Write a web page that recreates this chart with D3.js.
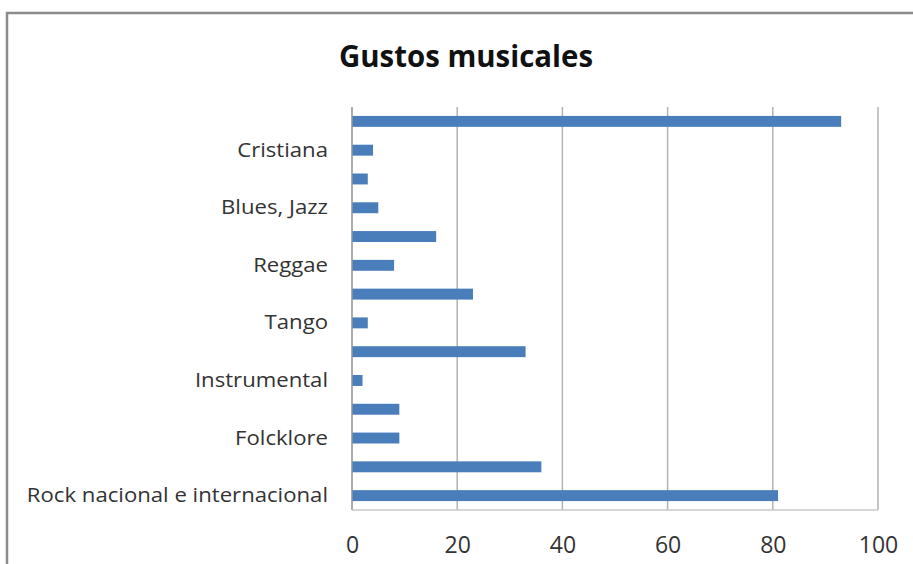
<!DOCTYPE html>
<html><head><meta charset="utf-8">
<script src="https://cdn.jsdelivr.net/npm/d3@7"></script>
<style>body{margin:0;background:#fff}svg{display:block}</style>
</head><body>
<svg id="c" width="913" height="564"></svg>
<script>
// Categories from bottom to top; names of unlabeled rows are unknown (hidden in the original)
const categories = ["Rock nacional e internacional","(sin etiqueta 1)","Folcklore","(sin etiqueta 2)","Instrumental","(sin etiqueta 3)","Tango","(sin etiqueta 4)","Reggae","(sin etiqueta 5)","Blues, Jazz","(sin etiqueta 6)","Cristiana","(sin etiqueta 7)"];
const shownLabels = ["Rock nacional e internacional","Folcklore","Instrumental","Tango","Reggae","Blues, Jazz","Cristiana"];
const values = [81,36,9,9,2,33,3,23,8,16,5,3,4,93];
const xTicks = [0,20,40,60,80,100];
const title = "Gustos musicales";

const svg = d3.select("#c");
const m = {left:352, right:878, top:107, bottom:510};
const x = d3.scaleLinear().domain([0,100]).range([m.left, m.right]);
const y = d3.scaleBand().domain(categories.slice().reverse()).range([m.top, m.bottom]).paddingInner(0.62).paddingOuter(0.31);
const FONT = "'Open Sans', sans-serif";

// outer chart border
svg.append("rect").attr("x",7).attr("y",13).attr("width",930).attr("height",600)
  .attr("fill","#fff").attr("stroke","#8c8c8c").attr("stroke-width",2.5);

// title
svg.append("text").attr("x",466).attr("y",67).attr("text-anchor","middle")
  .attr("font-family",FONT).attr("font-weight","bold").attr("font-size",30)
  .attr("textLength",254).attr("lengthAdjust","spacingAndGlyphs")
  .attr("fill","#111").text(title);

// gridlines
svg.append("g").selectAll("line").data(xTicks).join("line")
  .attr("x1",d=>x(d)).attr("x2",d=>x(d)).attr("y1",m.top).attr("y2",m.bottom)
  .attr("stroke","#b3b3b3").attr("stroke-width",1.5);
// bottom border of plot
svg.append("line").attr("x1",m.left).attr("x2",m.right).attr("y1",m.bottom).attr("y2",m.bottom)
  .attr("stroke","#c8c8c8").attr("stroke-width",1.5);

// bars
svg.append("g").selectAll("rect").data(categories).join("rect")
  .attr("x",x(0)).attr("y",d=>y(d)).attr("height",y.bandwidth())
  .attr("width",(d,i)=>x(values[i])-x(0)).attr("fill","#4a7ebb");

// left axis line
svg.append("line").attr("x1",m.left).attr("x2",m.left).attr("y1",m.top).attr("y2",m.bottom)
  .attr("stroke","#9a9a9a").attr("stroke-width",1.2);

// y labels
const yAxis = d3.axisLeft(y).tickSize(0).tickPadding(24).tickFormat(d=>shownLabels.includes(d)?d:"");
const gy = svg.append("g").attr("transform",`translate(${m.left},0)`).call(yAxis);
gy.select(".domain").remove();
gy.selectAll("text").attr("font-family",FONT).attr("font-size",20.5).attr("fill","#333")
  .each(function(){ const L=this.getComputedTextLength(); if(L>0){ d3.select(this).attr("textLength",L*1.08).attr("lengthAdjust","spacingAndGlyphs"); } });

// x labels
const xAxis = d3.axisBottom(x).tickValues(xTicks).tickSize(0).tickPadding(27);
const gx = svg.append("g").attr("transform",`translate(0,${m.bottom})`).call(xAxis);
gx.select(".domain").remove();
gx.selectAll("text").attr("font-family",FONT).attr("font-size",23).attr("fill","#333");
</script>
</body></html>
